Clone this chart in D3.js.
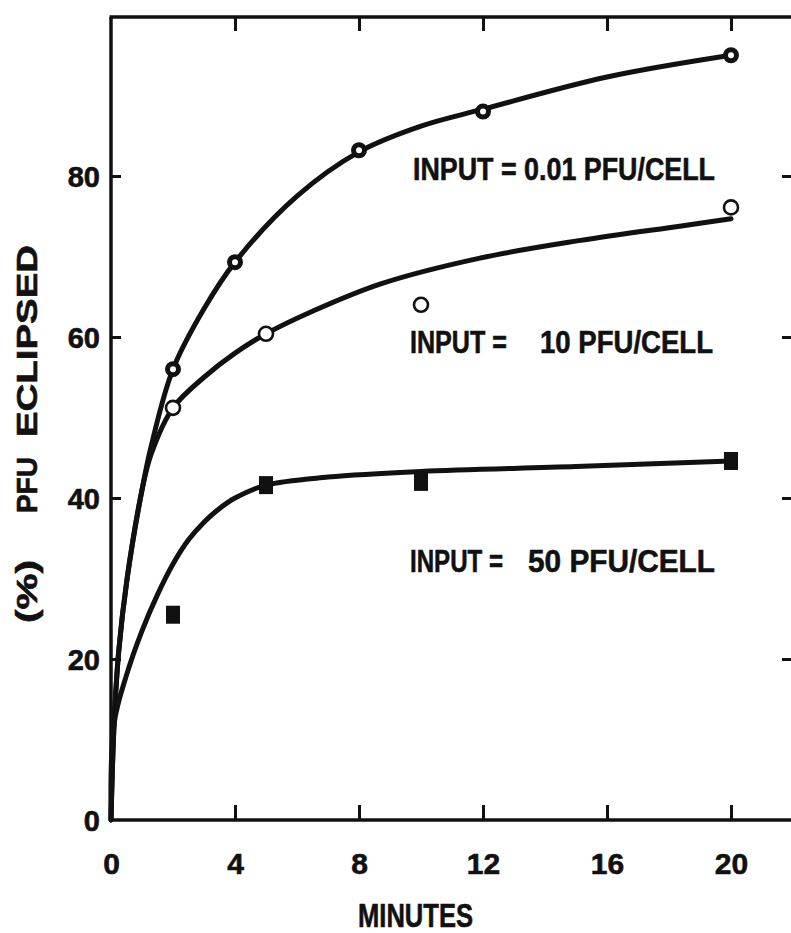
<!DOCTYPE html>
<html><head><meta charset="utf-8">
<script src="https://cdn.jsdelivr.net/npm/d3@7"></script>
<style>
html,body{margin:0;padding:0;background:#fff;}
svg{display:block;}
text{font-family:"Liberation Sans","Arial","Helvetica",sans-serif;font-weight:bold;fill:#111;}
</style></head><body>
<svg id="chart" width="791" height="933"></svg>
<script>
// Axis ticks
const xTicks = [0, 4, 8, 12, 16, 20];
const yTicks = [0, 20, 40, 60, 80];

// Measured points: % PFU eclipsed vs minutes, per input multiplicity
const lowTimes  = [2, 4, 8, 12, 20];
const lowValues = [56, 69.3, 83.2, 88, 95];
const midTimes  = [2, 5, 10, 20];
const midValues = [51.2, 60.4, 64, 76.1];
const highTimes  = [2, 5, 10, 20];
const highValues = [25.5, 41.6, 42, 44.6];

// Hand-fitted curves through each series
const lowCurveTimes  = [0, 0.1, 0.25, 0.52, 1.0, 1.3, 2, 3, 4, 6, 8, 10, 12, 16, 20];
const lowCurveValues = [0, 12, 21, 30, 41, 46.5, 56, 63.5, 69.3, 77.5, 83, 86.2, 88.3, 92.3, 95];
const midCurveTimes  = [0, 0.1, 0.25, 0.52, 1.0, 1.3, 2, 3, 4, 5, 6.5, 8.7, 11.9, 15.15, 18.4, 20];
const midCurveValues = [0, 12, 21, 30, 41, 45.5, 51.2, 55, 58, 60.4, 63.2, 66.6, 69.8, 72.0, 73.8, 74.7];
const highCurveTimes  = [0, 0.1, 0.5, 1, 1.5, 2, 2.5, 3, 3.5, 4, 5, 7, 10, 15, 20];
const highCurveValues = [0, 12, 18, 23.5, 28, 31.8, 34.8, 37, 38.7, 40, 41.6, 42.6, 43.3, 43.9, 44.6];

const seriesLabels = ["INPUT = 0.01 PFU/CELL", "INPUT =", "10 PFU/CELL", "INPUT =", "50 PFU/CELL"];
const xTitle = "MINUTES";
const yTitleParts = ["(%)", "PFU", "ECLIPSED"];

const svg = d3.select("#chart");
const ink = "#111";

const x = d3.scaleLinear().domain([0, 20]).range([111, 731]);
const y = d3.scaleLinear().domain([0, 100]).range([820, 15]);

// Frame
const frame = svg.append("g").attr("stroke", ink).attr("stroke-width", 3.5).attr("fill", "none");
frame.append("line").attr("x1", x(0)).attr("x2", x(0)).attr("y1", 17).attr("y2", y(0) + 1.5);
frame.append("line").attr("x1", x(0) - 1.5).attr("x2", 791).attr("y1", 17).attr("y2", 17);
frame.append("line").attr("x1", x(0) - 1.5).attr("x2", 791).attr("y1", y(0)).attr("y2", y(0));

function styleAxis(g) {
  g.select(".domain").remove();
  g.selectAll(".tick line").attr("stroke", ink).attr("stroke-width", 3);
}

// Bottom axis
const gx = svg.append("g").attr("transform", `translate(0,${y(0)})`)
  .call(d3.axisBottom(x).tickValues(xTicks).tickSizeInner(-15).tickSizeOuter(0).tickFormat(d3.format("d")));
styleAxis(gx);
gx.selectAll(".tick line").filter(d => d === 0).remove();
gx.selectAll(".tick text").attr("y", 54).attr("dy", 0).attr("font-size", 30)
  .attr("font-family", "Liberation Sans, Arial, sans-serif").attr("fill", ink)
  .attr("stroke", ink).attr("stroke-width", 0.6);

// Top axis (ticks only)
const gt = svg.append("g").attr("transform", "translate(0,17)")
  .call(d3.axisTop(x).tickValues(xTicks.filter(d => d > 0)).tickSizeInner(-14).tickSizeOuter(0).tickFormat(""));
styleAxis(gt);

// Left axis
const gy = svg.append("g").attr("transform", `translate(${x(0)},0)`)
  .call(d3.axisLeft(y).tickValues(yTicks).tickSizeInner(-10).tickSizeOuter(0).tickPadding(11).tickFormat(d3.format("d")));
styleAxis(gy);
gy.selectAll(".tick line").filter(d => d === 0).remove();
gy.selectAll(".tick text").attr("font-size", 29).attr("dy", "0.36em")
  .attr("font-family", "Liberation Sans, Arial, sans-serif").attr("fill", ink)
  .attr("stroke", ink).attr("stroke-width", 0.6);

// Right axis (ticks only, axis line just past the edge)
const gr = svg.append("g").attr("transform", "translate(794,0)")
  .call(d3.axisRight(y).tickValues(yTicks.filter(d => d > 0)).tickSizeInner(-12).tickSizeOuter(0).tickFormat(""));
styleAxis(gr);

// Curves
const line = d3.line().x(d => x(d[0])).y(d => y(d[1])).curve(d3.curveCatmullRom.alpha(0.5));
const curves = [
  d3.zip(lowCurveTimes, lowCurveValues),
  d3.zip(midCurveTimes, midCurveValues),
  d3.zip(highCurveTimes, highCurveValues)
];
svg.append("g").selectAll("path").data(curves).join("path")
  .attr("d", line).attr("fill", "none").attr("stroke", ink)
  .attr("stroke-width", 5).attr("stroke-linecap", "round").attr("stroke-linejoin", "round");

// Markers
svg.append("g").selectAll("circle").data(d3.zip(lowTimes, lowValues)).join("circle")
  .attr("cx", d => x(d[0])).attr("cy", d => y(d[1])).attr("r", 5.5)
  .attr("fill", "#fff").attr("stroke", ink).attr("stroke-width", 5);

svg.append("g").selectAll("circle").data(d3.zip(midTimes, midValues)).join("circle")
  .attr("cx", d => x(d[0])).attr("cy", d => y(d[1])).attr("r", 7)
  .attr("fill", "#fff").attr("stroke", ink).attr("stroke-width", 2.6);

svg.append("g").selectAll("rect").data(d3.zip(highTimes, highValues)).join("rect")
  .attr("x", d => x(d[0]) - 7).attr("y", d => y(d[1]) - 9).attr("width", 14).attr("height", 18)
  .attr("fill", ink);

// Series annotations
const labelSpecs = [
  {t: seriesLabels[0], x: 413, y: 180, w: 302},
  {t: seriesLabels[1], x: 410, y: 353, w: 97},
  {t: seriesLabels[2], x: 540, y: 353, w: 173},
  {t: seriesLabels[3], x: 410, y: 572, w: 93},
  {t: seriesLabels[4], x: 528, y: 572, w: 187}
];
svg.append("g").selectAll("text").data(labelSpecs).join("text")
  .attr("x", d => d.x).attr("y", d => d.y).attr("font-size", 32)
  .attr("stroke", ink).attr("stroke-width", 0.6)
  .attr("textLength", d => d.w).attr("lengthAdjust", "spacingAndGlyphs")
  .text(d => d.t);

// Axis titles
svg.append("text").attr("x", 358).attr("y", 927).attr("font-size", 33)
  .attr("stroke", ink).attr("stroke-width", 0.6)
  .attr("textLength", 115).attr("lengthAdjust", "spacingAndGlyphs").text(xTitle);

const yTitleSpecs = [
  {t: yTitleParts[0], a: 623, w: 63},
  {t: yTitleParts[1], a: 513, w: 56},
  {t: yTitleParts[2], a: 437, w: 192}
];
svg.append("g").selectAll("text").data(yTitleSpecs).join("text")
  .attr("transform", d => `translate(37,${d.a}) rotate(-90)`)
  .attr("font-size", 30).attr("stroke", ink).attr("stroke-width", 0.6)
  .attr("textLength", d => d.w).attr("lengthAdjust", "spacingAndGlyphs")
  .text(d => d.t);
</script>
</body></html>
